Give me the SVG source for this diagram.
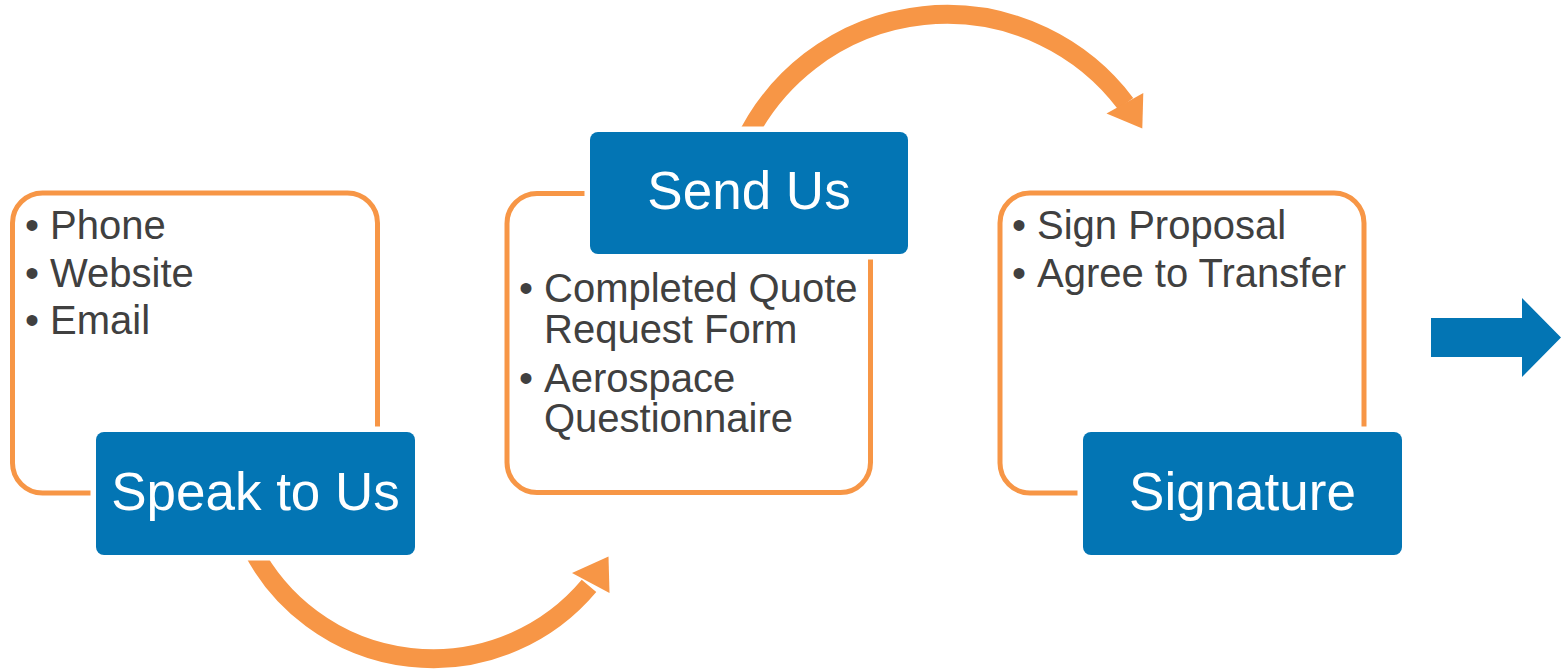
<svg xmlns="http://www.w3.org/2000/svg" width="1562" height="669" viewBox="0 0 1562 669">
<style>
.frame{fill:none;stroke:#F79646;stroke-width:5}
.halo{fill:#FFFFFF}
.head{fill:#0375B4}
.title{font-family:"Liberation Sans",Arial,sans-serif;font-size:53px;fill:#FFFFFF;text-anchor:middle}
.item{font-family:"Liberation Sans",Arial,sans-serif;font-size:40px;fill:#404040}
.arc{fill:none;stroke:#F79646;stroke-width:19}
.tip{fill:#F79646}
</style>
<rect width="1562" height="669" fill="#FFFFFF"/>
<g id="frames">
<rect class="frame" x="12.5" y="193" width="365" height="300" rx="30"/>
<rect class="frame" x="507" y="193.5" width="363.5" height="299" rx="30"/>
<rect class="frame" x="1000" y="193" width="364" height="300" rx="30"/>
</g>
<g id="connectors">
<path class="arc" d="M251.5,547.5 A203.7,203.7 0 0 0 589,585.9"/>
<polygon class="tip" points="572,573 608.5,556.5 609.5,593"/>
<path class="arc" d="M743.7,143.7 A224,224 0 0 1 1125.6,103.6"/>
<polygon class="tip" points="1106.5,113.5 1143.3,93 1142.3,128.5"/>
<polygon fill="#0375B4" points="1431,318 1522,318 1522,298 1561,337.5 1522,377 1522,357 1431,357"/>
</g>
<g id="node-speak">
<rect class="halo" x="90.5" y="426.5" width="330" height="134" rx="13"/>
<rect class="head" x="96" y="432" width="319" height="123" rx="8"/>
<text class="title" x="255.5" y="510">Speak to Us</text>
<text class="item" x="25" y="239">•</text><text class="item" x="50" y="239">Phone</text>
<text class="item" x="25" y="286.7">•</text><text class="item" x="50" y="286.7">Website</text>
<text class="item" x="25" y="334.3">•</text><text class="item" x="50" y="334.3">Email</text>
</g>
<g id="node-send">
<rect class="halo" x="584.5" y="126.5" width="329" height="133" rx="13"/>
<rect class="head" x="590" y="132" width="318" height="122" rx="8"/>
<text class="title" x="749" y="208.5">Send Us</text>
<text class="item" x="519" y="301.7">•</text><text class="item" x="544" y="301.7">Completed Quote</text>
<text class="item" x="544" y="342.7">Request Form</text>
<text class="item" x="519" y="391.7">•</text><text class="item" x="544" y="391.7">Aerospace</text>
<text class="item" x="544" y="432.3">Questionnaire</text>
</g>
<g id="node-signature">
<rect class="halo" x="1077.5" y="426.5" width="330" height="134" rx="13"/>
<rect class="head" x="1083" y="432" width="319" height="123" rx="8"/>
<text class="title" x="1242.5" y="510">Signature</text>
<text class="item" x="1012" y="239">•</text><text class="item" x="1037" y="239">Sign Proposal</text>
<text class="item" x="1012" y="286.7">•</text><text class="item" x="1037" y="286.7">Agree to Transfer</text>
</g>
</svg>
